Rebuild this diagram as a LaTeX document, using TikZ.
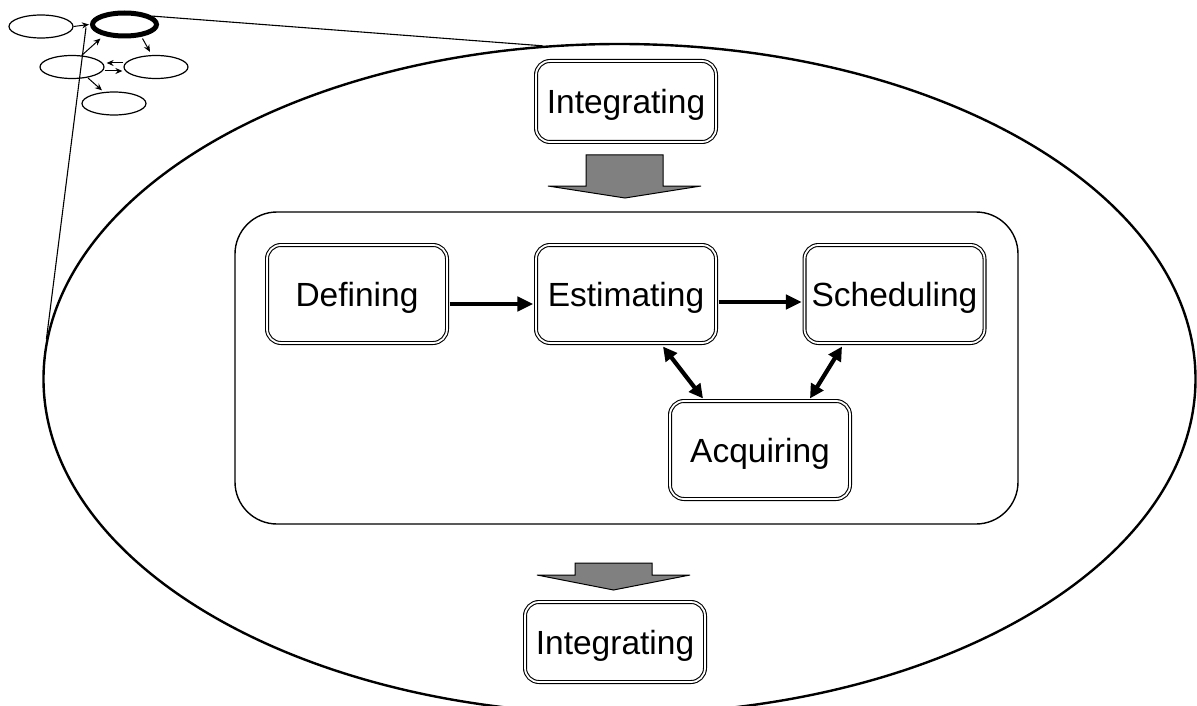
\documentclass[tikz,border=0pt]{standalone}
\usepackage{fontspec}
\setmainfont{Liberation Sans}
\usetikzlibrary{arrows.meta,shapes.geometric,calc}

\begin{document}
\begin{tikzpicture}[x=1pt,y=-1pt,
  stage/.style={draw, double, line width=1.1pt, double distance=1.8pt,
    rounded corners=14pt, fill=white, minimum width=180pt, minimum height=98pt,
    inner sep=0pt, text height=24pt, text depth=0pt,
    font=\fontsize{33.5}{38}\selectfont},
  frame/.style={draw, line width=1.4pt, rounded corners=42pt, inner sep=0pt},
  flow/.style={line width=4.2pt, -{Triangle[length=16pt,width=14pt]}},
  link/.style={line width=4.2pt, {Triangle[length=14pt,width=14pt]}-{Triangle[length=14pt,width=14pt]}},
  blockarrow/.style={draw=black, line width=1pt, fill=black!50, line join=miter},
  mini/.style={ellipse, draw, line width=1.2pt, minimum width=64pt, minimum height=23pt, inner sep=0pt},
  minisel/.style={mini, line width=5pt},
  miniarr/.style={line width=1pt, -{Stealth[length=7pt,width=6pt]}},
  zoomline/.style={line width=1.1pt},
  outline/.style={ellipse, draw, line width=2.4pt, minimum width=1152pt, minimum height=670pt, inner sep=0pt}
]
\useasboundingbox (0,0) rectangle (1197,706);
\clip (0,0) rectangle (1197,706);

% large outline that expands the selected process
\node[outline] (big) at (619.5,379) {};

% overview of the processes
\node[mini] (ta) at (41,26.5) {};
\node[mini] (tc) at (72,67) {};
\node[mini] (td) at (156,67) {};
\node[mini] (te) at (114,103.5) {};
\node[minisel] (tb) at (124.5,24.5) {};

\draw[zoomline] (tb.17) -- (big.103.4);
\draw[zoomline] ($(tb.west)+(-4,3)$) -- (big.176);

\draw[miniarr] (ta.east) -- ($(tb.west)+(-1,0)$);
\draw[miniarr] (tc.50) -- ($(tb.center)+(-24,14)$);
\draw[miniarr] ($(tb.center)+(18,14)$) -- ($(td.north)+(-6,-3)$);
\draw[miniarr] ($(td.west)+(0,-4)$) -- ($(tc.east)+(2,-4)$);
\draw[miniarr] ($(tc.east)+(0,4)$) -- ($(td.west)+(-1,4)$);
\draw[miniarr] ($(tc.center)+(16,11)$) -- ($(te.north)+(-12,-1)$);

% planning sub-processes
\node[frame, minimum width=783pt, minimum height=312pt] (plan) at (626.5,368) {};

\node[stage] (def) at (357,294) {Defining};
\node[stage] (est) at (626,294) {Estimating};
\node[stage] (sch) at (894.5,294) {Scheduling};
\node[stage] (acq) at (760,450) {Acquiring};

\node[stage, minimum height=81pt] (intin) at (626,101.5) {Integrating};
\node[stage, minimum height=80pt] (intout) at (615,642) {Integrating};

\draw[flow] ($(def.east)+(2,10)$) -- ($(est.west)+(-2,10)$);
\draw[flow] ($(est.east)+(2,8)$) -- ($(sch.west)+(-2,8)$);
\draw[link] ($(est.south)+(37,3)$) -- ($(acq.north)+(-57,-2)$);
\draw[link] ($(sch.south)+(-52.5,3)$) -- ($(acq.north)+(50,-2)$);

% block arrows into and out of the planning group
\draw[blockarrow] (586,155) -- (663,155) -- (663,186) -- (701,186) -- (625,198)
  -- (548,186) -- (586,186) -- cycle;
\draw[blockarrow] (575,563) -- (652,563) -- (652,575) -- (690,575) -- (613.5,590)
  -- (537,575) -- (575,575) -- cycle;
\end{tikzpicture}
\end{document}
